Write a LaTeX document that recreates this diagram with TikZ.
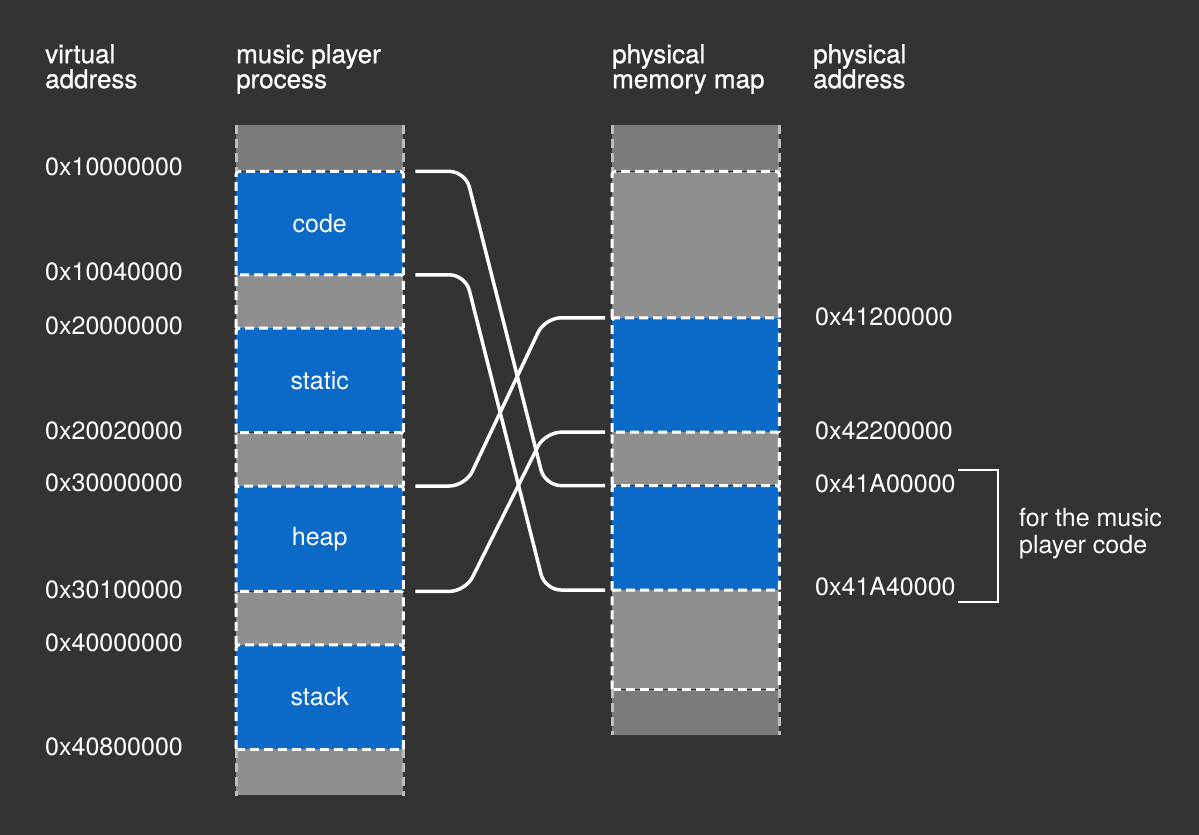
\documentclass[tikz,border=0pt]{standalone}
\usepackage{fontspec}
\setmainfont{TeX Gyre Heros}
\newfontfamily\headfont[FakeBold=0.8]{TeX Gyre Heros}
\usetikzlibrary{positioning, calc}
\definecolor{mmbg}{HTML}{333333}
\definecolor{mmblue}{HTML}{0B69C7}
\definecolor{mmgray}{HTML}{8F8F8F}
\definecolor{mmdark}{HTML}{7B7B7B}
\definecolor{mmfade}{HTML}{BDBDBD}

\begin{document}
\begin{tikzpicture}[
  x=1pt, y=-1pt,
  seg/.style={
    rectangle,
    inner sep=0pt,
    minimum width=167pt,
    anchor=north west,
    text=white,
    font=\fontsize{25}{27}\selectfont
  },
  blue/.style={seg, fill=mmblue},
  gray/.style={seg, fill=mmgray},
  dark/.style={seg, fill=mmdark},
  dashline/.style={
    draw=white,
    line width=3pt,
    dash pattern=on 9pt off 5pt,
    rounded corners=3pt
  },
  fadeline/.style={draw=mmfade, line width=3pt, dash pattern=on 9pt off 5pt},
  addr/.style={anchor=west, inner sep=0pt, text=white, font=\fontsize{25}{27}\selectfont},
  head/.style={anchor=north west, inner sep=0pt, align=left, text=white, font=\headfont\fontsize{26}{25}\selectfont},
  link/.style={draw=white, line width=3.5pt, rounded corners=16pt}
]
  \fill[mmbg] (0,0) rectangle (1199,835);

  % column titles
  \node[head] (hvirt) at (45,44) {virtual\\address};
  \node[head] (hproc) at (236,44) {music player\\process};
  \node[head] (hmap) at (612,44) {physical\\memory map};
  \node[head] (hphys) at (813,44) {physical\\address};

  % music player process
  \node[dark, minimum height=46pt] (ltop) at (236,125) {};
  \node[blue, minimum height=103pt, below=0pt of ltop] (code) {code};
  \node[gray, minimum height=53pt, below=0pt of code] (lgray1) {};
  \node[blue, minimum height=104pt, below=0pt of lgray1] (static) {static};
  \node[gray, minimum height=53pt, below=0pt of static] (lgray2) {};
  \node[blue, minimum height=105pt, below=0pt of lgray2] (heap) {heap};
  \node[gray, minimum height=53pt, below=0pt of heap] (lgray3) {};
  \node[blue, minimum height=104pt, below=0pt of lgray3] (stack) {stack};
  \node[gray, minimum height=46pt, below=0pt of stack] (lbot) {};

  % physical memory map
  \node[dark, minimum height=46pt] (rtop) at (612,125) {};
  \node[gray, minimum height=146pt, below=0pt of rtop] (rgray1) {};
  \node[blue, minimum height=114pt, below=0pt of rgray1] (rblue1) {};
  \node[gray, minimum height=53pt, below=0pt of rblue1] (rgray2) {};
  \node[blue, minimum height=104pt, below=0pt of rgray2] (rblue2) {};
  \node[gray, minimum height=99pt, below=0pt of rblue2] (rgray3) {};
  \node[dark, minimum height=45pt, below=0pt of rgray3] (rbot) {};

  % dashed borders
  \foreach \n in {code,lgray1,static,lgray2,heap,lgray3,stack,rgray1,rblue1,rgray2,rblue2,rgray3}
    \draw[dashline] (\n.south west) -- (\n.north west) -- (\n.north east) -- (\n.south east);
  \draw[dashline] (stack.south west) -- (stack.south east);
  \draw[dashline] (rgray3.south west) -- (rgray3.south east);
  \foreach \n in {ltop,lbot,rtop,rbot}
    \draw[fadeline] (\n.north west) -- (\n.south west) (\n.north east) -- (\n.south east);

  % virtual addresses
  \node[addr] (v1) at (45,167) {0x10000000};
  \node[addr] (v2) at (45,272) {0x10040000};
  \node[addr] (v3) at (45,326) {0x20000000};
  \node[addr] (v4) at (45,431) {0x20020000};
  \node[addr] (v5) at (45,483) {0x30000000};
  \node[addr] (v6) at (45,590) {0x30100000};
  \node[addr] (v7) at (45,643) {0x40000000};
  \node[addr] (v8) at (45,747) {0x40800000};

  % physical addresses
  \node[addr] (p1) at (815,317) {0x41200000};
  \node[addr] (p2) at (815,431) {0x42200000};
  \node[addr] (p3) at (815,484) {0x41A00000};
  \node[addr] (p4) at (815,587) {0x41A40000};

  % mappings
  \draw[link] ($(code.north east)+(12,0)$) -- ++(50,0) -- ($(rblue2.north west)+(-67,0)$) -- ($(rblue2.north west)+(-7,0)$);
  \draw[link] ($(code.south east)+(12,0)$) -- ++(50,0) -- ($(rblue2.south west)+(-67,0)$) -- ($(rblue2.south west)+(-7,0)$);
  \draw[link] ($(heap.north east)+(12,0)$) -- ++(50,0) -- ($(rblue1.north west)+(-67,0)$) -- ($(rblue1.north west)+(-7,0)$);
  \draw[link] ($(heap.south east)+(12,0)$) -- ++(50,0) -- ($(rblue1.south west)+(-67,0)$) -- ($(rblue1.south west)+(-7,0)$);

  % bracket
  \draw[white, line width=2pt] (958,470) -- (998,470) -- (998,602) -- (958,602);
  \node[addr, align=left, font=\fontsize{25}{27}\selectfont] (note) at (1019,534) {for the music\\player code};
\end{tikzpicture}
\end{document}
